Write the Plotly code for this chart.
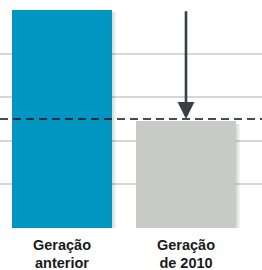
import plotly.graph_objects as go

categories = ["<b>Geração</b><br><b>anterior</b>", "<b>Geração</b><br><b>de 2010</b>"]
values = [5.0, 2.45]
bar_colors = ["#0096c1", "#c8cac5"]
reference_level = 2.5
arrow_from = 5.0
y_ticks = [0, 1, 2, 3, 4, 5]

x_pos = list(range(len(categories)))

fig = go.Figure()

# soft shadow behind bars
for off, alpha in [(0.03, 0.06), (0.018, 0.08)]:
    fig.add_trace(go.Bar(
        x=[p + off for p in x_pos], y=values, base=[-0.06] * len(values),
        width=0.806, marker=dict(color=f"rgba(0,0,0,{alpha})", line=dict(width=0)),
        hoverinfo="skip", showlegend=False,
    ))

fig.add_trace(go.Bar(
    x=x_pos, y=values, width=0.806,
    marker=dict(color=bar_colors, line=dict(width=0)),
    showlegend=False,
))

fig.add_hline(y=reference_level, line=dict(color="#111111", width=1.6, dash="8px,5px"))

fig.add_annotation(
    x=x_pos[1], y=reference_level, ax=x_pos[1], ay=arrow_from,
    xref="x", yref="y", axref="x", ayref="y",
    showarrow=True, arrowhead=2, arrowsize=1.3, arrowwidth=2.6,
    arrowcolor="#3b3e43", text="", standoff=0,
)

fig.update_layout(
    width=262, height=270,
    margin=dict(l=0, r=0, t=9, b=42),
    paper_bgcolor="white", plot_bgcolor="white",
    barmode="overlay",
    bargap=0,
)
fig.update_xaxes(
    range=[-0.5, 1.613], tickvals=x_pos, ticktext=categories,
    showgrid=False, zeroline=False, showline=False, ticks="",
    automargin=False, ticklabelstandoff=6,
    tickfont=dict(family="Liberation Sans, Arial, sans-serif", size=14.5, color="#1a1a1a"),
)
fig.update_yaxes(
    range=[0, 5.02], tickvals=y_ticks, showticklabels=False, automargin=False,
    showgrid=True, gridcolor="#d6d6d6", gridwidth=1.5, zeroline=False, showline=False,
)

fig.write_html(
    "out.html",
    config={"displayModeBar": False},
    post_script="document.body.style.margin='0';document.body.style.overflow='hidden';",
)
